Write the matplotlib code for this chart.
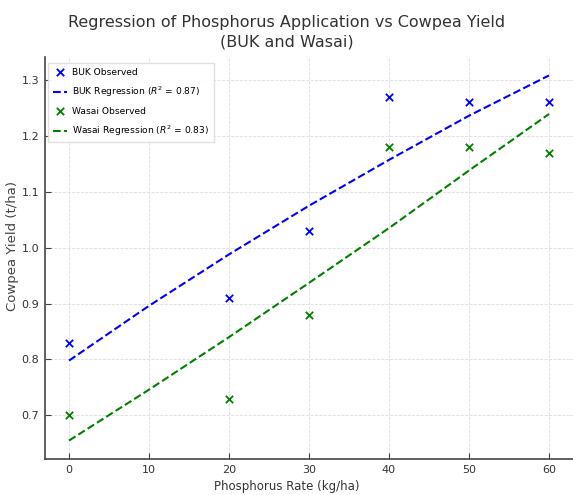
import matplotlib
matplotlib.use("Agg")
import matplotlib.pyplot as plt

rates = [0, 20, 30, 40, 50, 60]
buk_yield = [0.83, 0.91, 1.03, 1.27, 1.26, 1.26]
wasai_yield = [0.70, 0.73, 0.88, 1.18, 1.18, 1.17]

# regression curves as drawn, sampled every 10 kg/ha
fit_rates = [0, 10, 20, 30, 40, 50, 60]
buk_fit = [0.798, 0.896, 0.988, 1.075, 1.157, 1.236, 1.308]
wasai_fit = [0.655, 0.746, 0.840, 0.937, 1.035, 1.138, 1.239]

yticks = [0.7, 0.8, 0.9, 1.0, 1.1, 1.2, 1.3]
xticks = [0, 10, 20, 30, 40, 50, 60]

plt.rcParams['font.family'] = ['DejaVu Sans']

fig = plt.figure(figsize=(5.73, 4.95), dpi=100)
ax = fig.add_axes([45/573, 1-459/495, 1-45/573, 402/495])

ax.scatter(rates, buk_yield, marker='x', color='blue', s=28, linewidths=1.3,
           label='BUK Observed', zorder=3)
ax.plot(fit_rates, buk_fit, '--', color='blue', lw=1.5,
        label='BUK Regression ($R^2$ = 0.87)')
ax.scatter(rates, wasai_yield, marker='x', color='green', s=28, linewidths=1.3,
           label='Wasai Observed', zorder=3)
ax.plot(fit_rates, wasai_fit, '--', color='green', lw=1.5,
        label='Wasai Regression ($R^2$ = 0.83)')

ax.set_xticks(xticks)
ax.set_yticks(yticks)
ax.set_xlim(-3, 63)
ax.set_ylim(0.622, 1.341)
ax.grid(True, ls='--', lw=0.6, color='#dddddd')
ax.set_axisbelow(True)

for s in ['top', 'right']:
    ax.spines[s].set_visible(False)
for s in ['left', 'bottom']:
    ax.spines[s].set_color('#444444')
    ax.spines[s].set_linewidth(1.2)
ax.tick_params(direction='in', length=4, colors='#444444', labelsize=8,
               labelcolor='#333333', pad=4)

ax.set_xlabel('Phosphorus Rate (kg/ha)', fontsize=8.5, color='#333333')
ax.xaxis.set_label_coords((287-45)/528, -0.052)
ax.set_ylabel('Cowpea Yield (t/ha)', fontsize=9.5, color='#444444')
ax.yaxis.set_label_coords(-0.049, (459-246)/402)

fig.text(286.5/573, 1-32.5/495,
         'Regression of Phosphorus Application vs Cowpea Yield\n(BUK and Wasai)',
         ha='center', va='center', fontsize=11.5, color='#333333',
         linespacing=1.35)

ax.legend(loc='upper left', bbox_to_anchor=(0.006, 0.985), borderaxespad=0,
          fontsize=6.6, frameon=True, framealpha=0.9, edgecolor='#dddddd',
          labelspacing=0.85, handlelength=1.5, handletextpad=0.6,
          borderpad=0.5, fancybox=False)

fig.savefig('out.png', dpi=100)
